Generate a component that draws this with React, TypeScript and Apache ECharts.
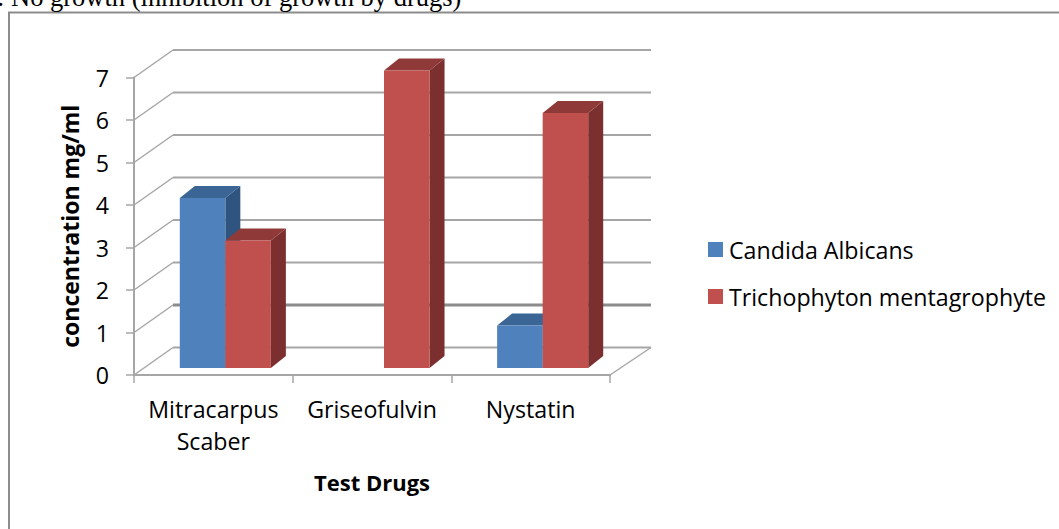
import React, { useEffect, useRef } from "react";
import * as echarts from "echarts";

const categories = ["Mitracarpus\nScaber", "Griseofulvin", "Nystatin"];
const candidaAlbicans = [4, 0, 1];
const trichophytonMentagrophyte = [3, 7, 6];
const yTicks = [0, 1, 2, 3, 4, 5, 6, 7];
const seriesNames = ["Candida Albicans", "Trichophyton mentagrophyte"];
const headerText = ": No growth (inhibition of growth by drugs)";
const xTitle = "Test Drugs";
const yTitle = "concentration mg/ml";

const FONT = "Open Sans";
const GRID = "#a6a6a6";
const WALL_DX = 39;
const WALL_DY = -27.5;
const BAR_DX = 12;
const BAR_DY = -7;
const DEPTH_DX = 15;
const DEPTH_DY = -12;
const BAR_FRACTION = 0.287;

function wallItem(params: any, api: any) {
  const v = api.value(0);
  const cs = params.coordSys;
  const y = api.coord([0, v])[1];
  const x0 = cs.x;
  const x1 = cs.x + cs.width;
  const thick = v === 1;
  const children: any[] = [
    {
      type: "line",
      shape: { x1: x0, y1: y, x2: x0 + WALL_DX, y2: y + WALL_DY },
      style: { stroke: GRID, lineWidth: 1.5 },
    },
    {
      type: "line",
      shape: { x1: x0 + WALL_DX, y1: y + WALL_DY, x2: x1 + WALL_DX + 2, y2: y + WALL_DY },
      style: { stroke: thick ? "#8c8c8c" : GRID, lineWidth: thick ? 3 : 2 },
    },
  ];
  if (v === 0) {
    children.push({
      type: "line",
      shape: { x1, y1: y, x2: x1 + WALL_DX + 2, y2: y + WALL_DY },
      style: { stroke: GRID, lineWidth: 1.5 },
    });
  }
  return { type: "group", children };
}

function barRenderer(seriesPos: number, front: string, top: string, side: string) {
  return (_params: any, api: any) => {
    const cat = api.value(0);
    const val = api.value(1);
    if (!val) return null;
    const base = api.coord([cat, 0]);
    const head = api.coord([cat, val]);
    const w = api.size([1, 0])[0] * BAR_FRACTION;
    const xl = base[0] + BAR_DX + (seriesPos - 1) * w;
    const xr = xl + w;
    const yb = base[1] + BAR_DY;
    const yt = head[1] + BAR_DY;
    return {
      type: "group",
      children: [
        {
          type: "polygon",
          shape: { points: [[xr, yt], [xr + DEPTH_DX, yt + DEPTH_DY], [xr + DEPTH_DX, yb + DEPTH_DY], [xr, yb]] },
          style: { fill: side },
        },
        {
          type: "polygon",
          shape: { points: [[xl, yt], [xl + DEPTH_DX, yt + DEPTH_DY], [xr + DEPTH_DX, yt + DEPTH_DY], [xr, yt]] },
          style: { fill: top },
        },
        { type: "rect", shape: { x: xl, y: yt, width: w, height: yb - yt }, style: { fill: front } },
      ],
    };
  };
}

export default function App() {
  const ref = useRef<HTMLDivElement>(null);
  useEffect(() => {
    if (!ref.current) return;
    const chart = echarts.init(ref.current, undefined, { renderer: "svg" });
    chart.setOption({
      animation: false,
      backgroundColor: "#ffffff",
      grid: { left: 134, top: 77.5, width: 476, height: 297.5 },
      xAxis: {
        type: "category",
        data: categories,
        name: xTitle,
        nameLocation: "middle",
        nameGap: 96,
        nameTextStyle: { fontFamily: FONT, fontWeight: "bold", fontSize: 22, color: "#000" },
        axisLine: { lineStyle: { color: GRID, width: 2 } },
        axisTick: { show: true, length: 8, lineStyle: { color: GRID, width: 1.5 } },
        axisLabel: { fontFamily: FONT, fontSize: 23.2, color: "#000", margin: 18, lineHeight: 32, interval: 0 },
        splitLine: { show: false },
      },
      yAxis: {
        type: "value",
        min: 0,
        max: 7,
        interval: 1,
        name: yTitle,
        nameLocation: "middle",
        nameGap: 53,
        nameTextStyle: { fontFamily: FONT, fontWeight: "bold", fontSize: 23, color: "#000" },
        axisLine: { show: true, lineStyle: { color: GRID, width: 2 } },
        axisTick: { show: true, length: 8, lineStyle: { color: GRID, width: 1.5 } },
        axisLabel: { fontFamily: FONT, fontSize: 23.2, color: "#000", margin: 25 },
        splitLine: { show: false },
      },
      legend: {
        orient: "vertical",
        left: 708,
        top: 238,
        padding: 0,
        itemWidth: 15,
        itemHeight: 15,
        itemGap: 24,
        icon: "rect",
        data: seriesNames,
        textStyle: { fontFamily: FONT, fontSize: 23.2, color: "#000", padding: [0, 0, 0, 1] },
      },
      graphic: [
        {
          type: "rect",
          shape: { x: 9, y: 12.5, width: 1100, height: 600 },
          style: { fill: "none", stroke: "#8c8c8c", lineWidth: 2 },
          z: 0,
        },
        {
          type: "text",
          x: -3,
          y: -17,
          style: { text: headerText, fontFamily: "Liberation Serif", fontSize: 26.5, fill: "#000" },
        },
      ],
      series: [
        {
          type: "custom",
          renderItem: wallItem,
          data: yTicks.map((v) => [v]),
          encode: { y: 0 },
          clip: false,
          silent: true,
          z: 1,
        },
        {
          type: "custom",
          name: seriesNames[0],
          renderItem: barRenderer(0, "#4f81bd", "#3b6595", "#2f5480"),
          data: candidaAlbicans.map((v, i) => [i, v]),
          encode: { x: 0, y: 1 },
          itemStyle: { color: "#4f81bd" },
          clip: false,
          z: 3,
        },
        {
          type: "custom",
          name: seriesNames[1],
          renderItem: barRenderer(1, "#c0504d", "#8f3a38", "#7b2f2e"),
          data: trichophytonMentagrophyte.map((v, i) => [i, v]),
          encode: { x: 0, y: 1 },
          itemStyle: { color: "#c0504d" },
          clip: false,
          z: 4,
        },
      ],
    });
    return () => chart.dispose();
  }, []);
  return <div ref={ref} style={{ position: "fixed", left: 0, top: 0, width: 1059, height: 529 }} />;
}
